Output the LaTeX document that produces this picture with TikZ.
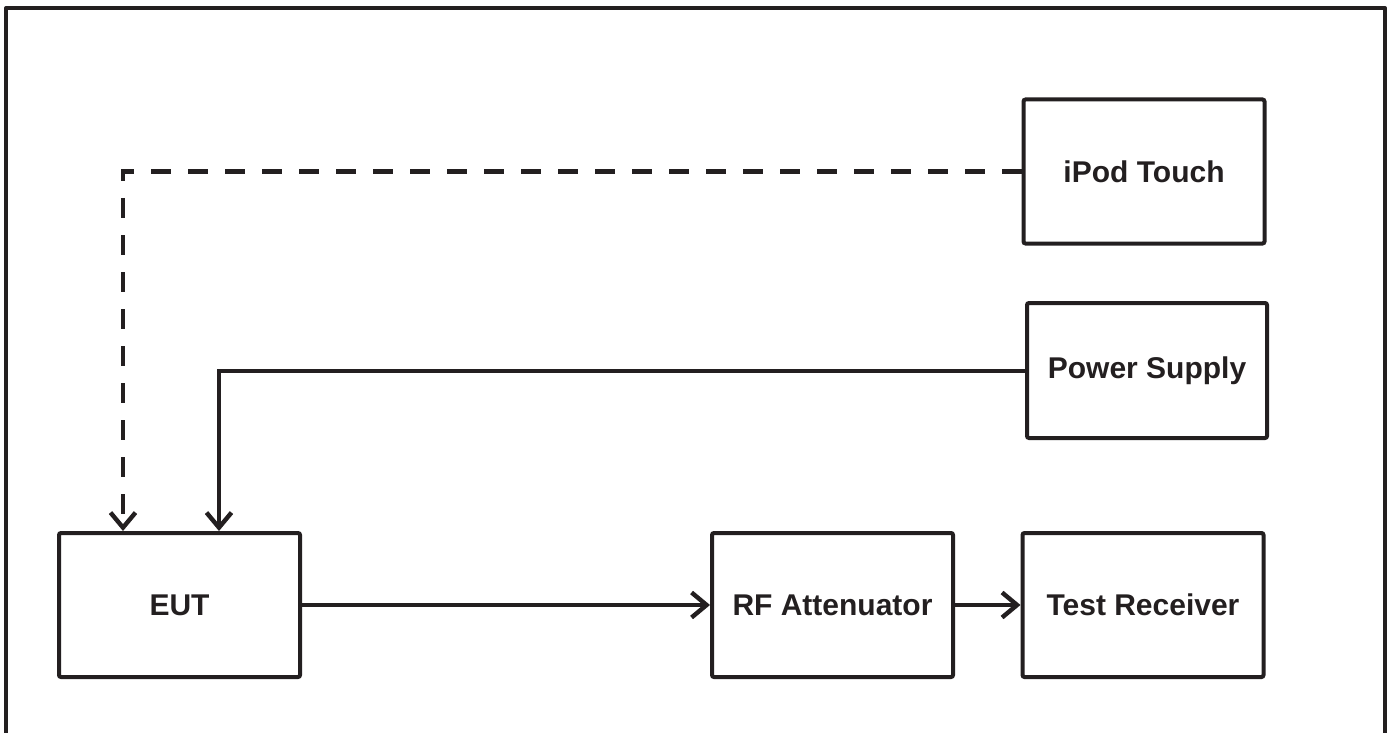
\documentclass[tikz,border=0pt]{standalone}
\usepackage{fontspec}
\setmainfont{Liberation Sans}
\usepackage{tikz}
\usetikzlibrary{arrows.meta,calc}
\definecolor{ink}{HTML}{231F20}
\tikzset{
  frame/.style={line width=2pt, draw=ink, line cap=round, line join=round},
  box/.style={draw=ink, line width=2pt, rounded corners=1pt, minimum width=120.5pt,
    minimum height=72pt, inner sep=0pt, font=\fontsize{15}{17}\selectfont\bfseries, text=ink},
  link/.style={-{Straight Barb[length=7.5pt, width=12.5pt, line width=2.2pt]}, line width=2pt, draw=ink},
  ctrl/.style={link, line width=2.4pt, dash pattern=on 10pt off 8.5pt}
}

\begin{document}
\begin{tikzpicture}[x=0.5pt, y=-0.5pt]
  \useasboundingbox (0,0) rectangle (1393,733);
  \draw[frame] (6,740) -- (6,8) -- (1385,8) -- (1385,740);
  % equipment
  \node[box] (eut)  at (179.5,605) {EUT};
  \node[box] (rf)   at (832.5,605) {RF Attenuator};
  \node[box] (rx)   at (1143,605) {Test Receiver};
  \node[box] (ipod) at (1144,171.5) {iPod Touch};
  \node[box, minimum width=120pt, minimum height=67.5pt] (psu) at (1147,370.5) {Power Supply};
  % connections
  \draw[ctrl] (ipod.west) -| ([xshift=33pt]eut.north west);
  \draw[link] (psu.west) -| ([xshift=81pt]eut.north west);
  \draw[link] (eut.east) -- (rf.west);
  \draw[link] (rf.east) -- (rx.west);
\end{tikzpicture}
\end{document}
